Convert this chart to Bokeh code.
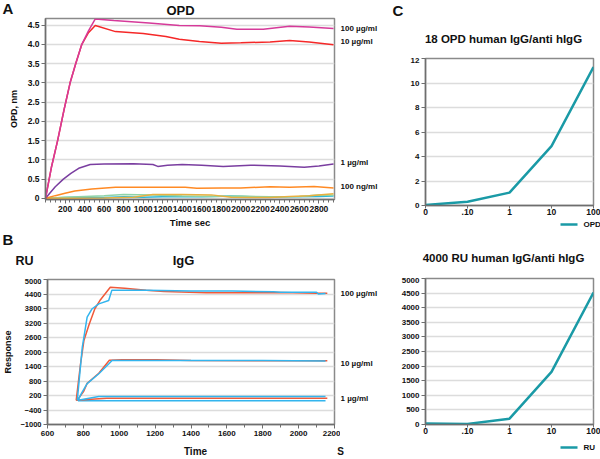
from bokeh.plotting import figure
from bokeh.models import Range1d, FixedTicker
from bokeh.core.properties import value
from bokeh.layouts import row, column
from bokeh.embed import file_html
from bokeh.resources import INLINE

FONT = "Liberation Sans"

# ---------------- Panel A data (OPD, nm vs time sec) ----------------
a_t_100ug = [0, 60, 124, 190, 252, 310, 372, 440, 510, 700, 1060, 1370, 1580, 1800, 1960, 2230, 2500, 2700, 2950]
a_v_100ug = [0, 0.8, 1.5, 2.3, 3.0, 3.5, 4.0, 4.35, 4.66, 4.62, 4.55, 4.49, 4.48, 4.44, 4.39, 4.39, 4.47, 4.45, 4.41]
a_t_10ug = [0, 60, 124, 190, 252, 310, 372, 440, 510, 717, 1000, 1233, 1370, 1577, 1800, 2000, 2300, 2500, 2700, 2950]
a_v_10ug = [0, 0.8, 1.5, 2.3, 3.0, 3.5, 4.0, 4.3, 4.49, 4.33, 4.28, 4.2, 4.13, 4.07, 4.03, 4.04, 4.06, 4.1, 4.06, 3.99]
a_t_1ug = [0, 50, 100, 183, 260, 340, 458, 600, 900, 1100, 1150, 1250, 1400, 1600, 1820, 2100, 2400, 2650, 2800, 2950]
a_v_1ug = [0, 0.15, 0.3, 0.5, 0.65, 0.78, 0.88, 0.89, 0.9, 0.88, 0.83, 0.86, 0.88, 0.86, 0.83, 0.86, 0.84, 0.81, 0.84, 0.89]
a_t_100ng = [0, 100, 200, 300, 475, 717, 1000, 1430, 1550, 1800, 2000, 2300, 2500, 2750, 2950]
a_v_100ng = [0, 0.07, 0.13, 0.19, 0.245, 0.285, 0.29, 0.29, 0.26, 0.27, 0.27, 0.3, 0.29, 0.31, 0.27]
a_t_yel = [0, 300, 600, 900, 1100, 1400, 1700, 1900, 2100, 2300, 2500, 2700, 2950]
a_v_yel = [0, 0.0, 0.01, 0.03, 0.1, 0.1, 0.09, 0.03, 0.02, 0.02, 0.05, 0.07, 0.12]
a_t_grn = [0, 200, 400, 600, 800, 1100, 1400, 1700, 2000, 2300, 2600, 2800, 2950]
a_v_grn = [0, 0.03, 0.05, 0.07, 0.1, 0.09, 0.06, 0.05, 0.06, 0.04, 0.05, 0.09, 0.08]
a_t_cyn = [0, 200, 400, 600, 800, 1000, 1300, 1600, 1900, 2200, 2500, 2800, 2950]
a_v_cyn = [0, 0.02, 0.03, 0.02, 0.04, 0.03, 0.05, 0.04, 0.06, 0.03, 0.04, 0.05, 0.06]
a_xticks = [200, 400, 600, 800, 1000, 1200, 1400, 1600, 1800, 2000, 2200, 2400, 2600, 2800]
a_yticks = [0, 0.5, 1.0, 1.5, 2.0, 2.5, 3.0, 3.5, 4.0, 4.5]
a_ylabels = ["0", "0.5", "1.0", "1.5", "2.0", "2.5", "3.0", "3.5", "4.0", "4.5"]
a_right_labels = ["100 µg/ml", "10 µg/ml", "1 µg/ml", "100 ng/ml"]
a_right_values = [4.42, 4.06, 0.93, 0.30]

# ---------------- Panel B data (Response RU vs time s) ----------------
b_t_100_blue = [766, 794, 821, 849, 886, 941, 959, 1150, 1400, 1630, 1860, 1900, 2100, 2110, 2150]
b_v_100_blue = [0, 2200, 3440, 3790, 3990, 4130, 4560, 4560, 4520, 4520, 4490, 4470, 4470, 4400, 4420]
b_t_100_red = [760, 784, 803, 830, 864, 892, 950, 1030, 1150, 1250, 1486, 1624, 1900, 2100, 2160]
b_v_100_red = [0, 1500, 2475, 3100, 3790, 4130, 4680, 4640, 4560, 4500, 4450, 4450, 4460, 4430, 4430]
b_t_10_blue = [770, 790, 821, 886, 941, 960, 1400, 1800, 2150]
b_v_10_blue = [0, 300, 690, 1100, 1500, 1650, 1650, 1650, 1630]
b_t_10_red = [765, 800, 821, 886, 945, 1015, 1209, 1400, 1780, 2160]
b_v_10_red = [0, 350, 700, 1120, 1660, 1680, 1680, 1650, 1640, 1640]
b_t_1_blue = [770, 886, 1400, 2150]
b_v_1_blue = [0, 160, 160, 160]
b_t_1_red = [760, 930, 1400, 2160]
b_v_1_red = [0, 90, 90, 90]
b_t_1_blue2 = [770, 1400, 2150]
b_v_1_blue2 = [-20, -20, -20]
b_xticks = [600, 800, 1000, 1200, 1400, 1600, 1800, 2000, 2200]
b_yticks = [-1000, -400, 200, 800, 1400, 2000, 2600, 3200, 3800, 4400, 5000]
b_right_labels = ["100 µg/ml", "10 µg/ml", "1 µg/ml"]
b_right_values = [4420, 1524, 80]

# ---------------- Panel C data ----------------
c_categories = ["0", ".10", "1", "10", "100"]
c_opd = [0.05, 0.3, 1.05, 4.85, 11.3]
c_ru = [30, 20, 200, 1800, 4520]
c_opd_yticks = [0, 2, 4, 6, 8, 10, 12]
c_ru_yticks = [0, 500, 1000, 1500, 2000, 2500, 3000, 3500, 4000, 4500, 5000]

TEAL = "#1a9aa6"
RED = "#f05a3a"
BLUE = "#33b5ee"


def make_fig(w, h, xr, yr, bl, br, bt, bb):
    p = figure(width=w, height=h, x_range=Range1d(*xr), y_range=Range1d(*yr),
               output_backend="svg", toolbar_location=None,
               min_border_left=bl, min_border_right=br, min_border_top=bt, min_border_bottom=bb)
    p.outline_line_color = "#8a8a8a"
    p.outline_line_width = 1.5
    p.xgrid.visible = False
    p.ygrid.grid_line_color = "#dcdcdc"
    p.ygrid.grid_line_width = 1.5
    for ax in (p.xaxis[0], p.yaxis[0]):
        ax.axis_line_color = "#6e6e6e"
        ax.axis_line_width = 1.5
        ax.major_tick_line_color = "#6e6e6e"
        ax.minor_tick_line_color = "#6e6e6e"
        ax.major_tick_in = 0
        ax.minor_tick_in = 0
        ax.major_tick_out = 4
        ax.minor_tick_out = 3
        ax.major_label_text_font = FONT
        ax.major_label_text_font_style = "bold"
        ax.major_label_text_color = "#111111"
        ax.major_label_standoff = 2
        ax.axis_label_text_font = FONT
        ax.axis_label_text_font_style = "bold"
        ax.axis_label_text_color = "#111111"
    p.yaxis[0].minor_tick_line_color = None
    return p


def text_strip(w, h, yr=None):
    p = figure(width=w, height=h, x_range=Range1d(0, w),
               y_range=Range1d(*yr) if yr else Range1d(h, 0),
               x_axis_type=None, y_axis_type=None, output_backend="svg",
               toolbar_location=None, min_border=0)
    p.outline_line_color = None
    return p


def put_text(p, xs, ys, texts, size, align="left"):
    p.text(x=xs, y=ys, text=texts, text_font=value(FONT), text_font_size=value(f"{size}px"),
           text_font_style="bold", text_color="#111111", text_align=align, text_baseline="middle")


# ---------------- Panel A ----------------
A_X = (0, 2960)
A_Y = (-0.03, 4.67)
tA = text_strip(390, 17)
put_text(tA, [2], [8], ["A"], 15)
put_text(tA, [180], [10], ["OPD"], 13, align="center")

pA = make_fig(340, 213, A_X, A_Y, 45, 6, 1, 26)
pA.xaxis.ticker = FixedTicker(ticks=a_xticks, minor_ticks=list(range(0, 2961, 50)))
pA.yaxis.ticker = FixedTicker(ticks=a_yticks)
pA.yaxis.major_label_overrides = {t: l for t, l in zip(a_yticks, a_ylabels)}
pA.xaxis.major_label_text_font_size = "8.5px"
pA.yaxis.major_label_text_font_size = "8.5px"
pA.xaxis.axis_label = "Time sec"
pA.xaxis.axis_label_text_font_size = "9.5px"
pA.xaxis.axis_label_standoff = 2
pA.yaxis.axis_label = "OPD, nm"
pA.yaxis.axis_label_text_font_size = "9px"
pA.yaxis.axis_label_standoff = 6
for t, v, c in [(a_t_cyn, a_v_cyn, "#30b8d8"), (a_t_grn, a_v_grn, "#8fd3a8"),
                (a_t_yel, a_v_yel, "#e8b040"), (a_t_100ng, a_v_100ng, "#ff8a24"),
                (a_t_1ug, a_v_1ug, "#7a3ea0"), (a_t_10ug, a_v_10ug, "#f52828"),
                (a_t_100ug, a_v_100ug, "#d63a9a")]:
    pA.line(t, v, line_color=c, line_width=1.5)

# right-hand labels: same y scale as panel A (frames are aligned in the row)
rA = text_strip(50, 213, A_Y)
put_text(rA, [0] * len(a_right_values), a_right_values, a_right_labels, 8)

# ---------------- Panel B ----------------
B_X = (600, 2200)
B_Y = (-1000, 5000)
tB = text_strip(390, 48)
put_text(tB, [2], [9], ["B"], 15)
put_text(tB, [15], [30], ["RU"], 12.5)
put_text(tB, [183], [30], ["IgG"], 13, align="center")

pB = make_fig(340, 162, B_X, B_Y, 45, 6, 1, 16)
pB.xaxis.ticker = FixedTicker(ticks=b_xticks, minor_ticks=list(range(600, 2201, 100)))
pB.yaxis.ticker = FixedTicker(ticks=b_yticks)
pB.xaxis.major_label_text_font_size = "8px"
pB.yaxis.major_label_text_font_size = "7.5px"
pB.yaxis.axis_label = "Response"
pB.yaxis.axis_label_text_font_size = "9px"
pB.yaxis.axis_label_standoff = 4
pB.line(b_t_1_blue2, b_v_1_blue2, line_color=BLUE, line_width=1.5)
pB.line(b_t_1_red, b_v_1_red, line_color=RED, line_width=1.5)
pB.line(b_t_1_blue, b_v_1_blue, line_color=BLUE, line_width=1.5)
pB.line(b_t_10_red, b_v_10_red, line_color=RED, line_width=1.5)
pB.line(b_t_10_blue, b_v_10_blue, line_color=BLUE, line_width=1.5)
pB.line(b_t_100_red, b_v_100_red, line_color=RED, line_width=1.5)
pB.line(b_t_100_blue, b_v_100_blue, line_color=BLUE, line_width=1.5)

rB = text_strip(50, 162, B_Y)
put_text(rB, [0] * len(b_right_values), b_right_values, b_right_labels, 8)

bB = text_strip(390, 19)
put_text(bB, [195], [11], ["Time"], 10, align="center")
put_text(bB, [340], [11], ["S"], 10, align="center")

# ---------------- Panel C ----------------
tC1 = text_strip(210, 57)
put_text(tC1, [2], [10], ["C"], 15)
put_text(tC1, [113], [38], ["18 OPD human IgG/anti hIgG"], 11.5, align="center")

tC2 = text_strip(210, 47)
put_text(tC2, [113], [27], ["4000 RU human IgG/anti hIgG"], 11.5, align="center")


def c_panel(h, yr, yticks, ydata, bb):
    p = make_fig(210, h, (0, 4), yr, 35, 7, 1, bb)
    p.xaxis.ticker = FixedTicker(ticks=list(range(len(c_categories))))
    p.xaxis.major_label_overrides = {i: c for i, c in enumerate(c_categories)}
    p.yaxis.ticker = FixedTicker(ticks=yticks)
    p.xaxis.major_label_text_font_size = "8.5px"
    p.yaxis.major_label_text_font_size = "8px"
    p.xaxis.major_tick_out = 3
    p.xaxis.major_label_standoff = 0
    p.line(list(range(len(c_categories))), ydata, line_color=TEAL, line_width=2.5)
    return p


def legend_strip(h, y, name):
    s = text_strip(210, h)
    s.segment(x0=[170], y0=[y], x1=[187], y1=[y], line_color=TEAL, line_width=2.5)
    put_text(s, [193], [y], [name], 8)
    return s


pC1 = c_panel(161, (0, 12), c_opd_yticks, c_opd, 13)
lC1 = legend_strip(12, 6, "OPD")
pC2 = c_panel(163, (0, 5000), c_ru_yticks, c_ru, 16)
lC2 = legend_strip(19, 7, "RU")

left = column(tA, row(pA, rA, spacing=0), tB, row(pB, rB, spacing=0), bB, spacing=0)
right = column(row(tC1), pC1, row(lC1), row(tC2), pC2, row(lC2), spacing=0)
layout = row(left, right, spacing=0)
open("out.html", "w").write(file_html(layout, INLINE))
